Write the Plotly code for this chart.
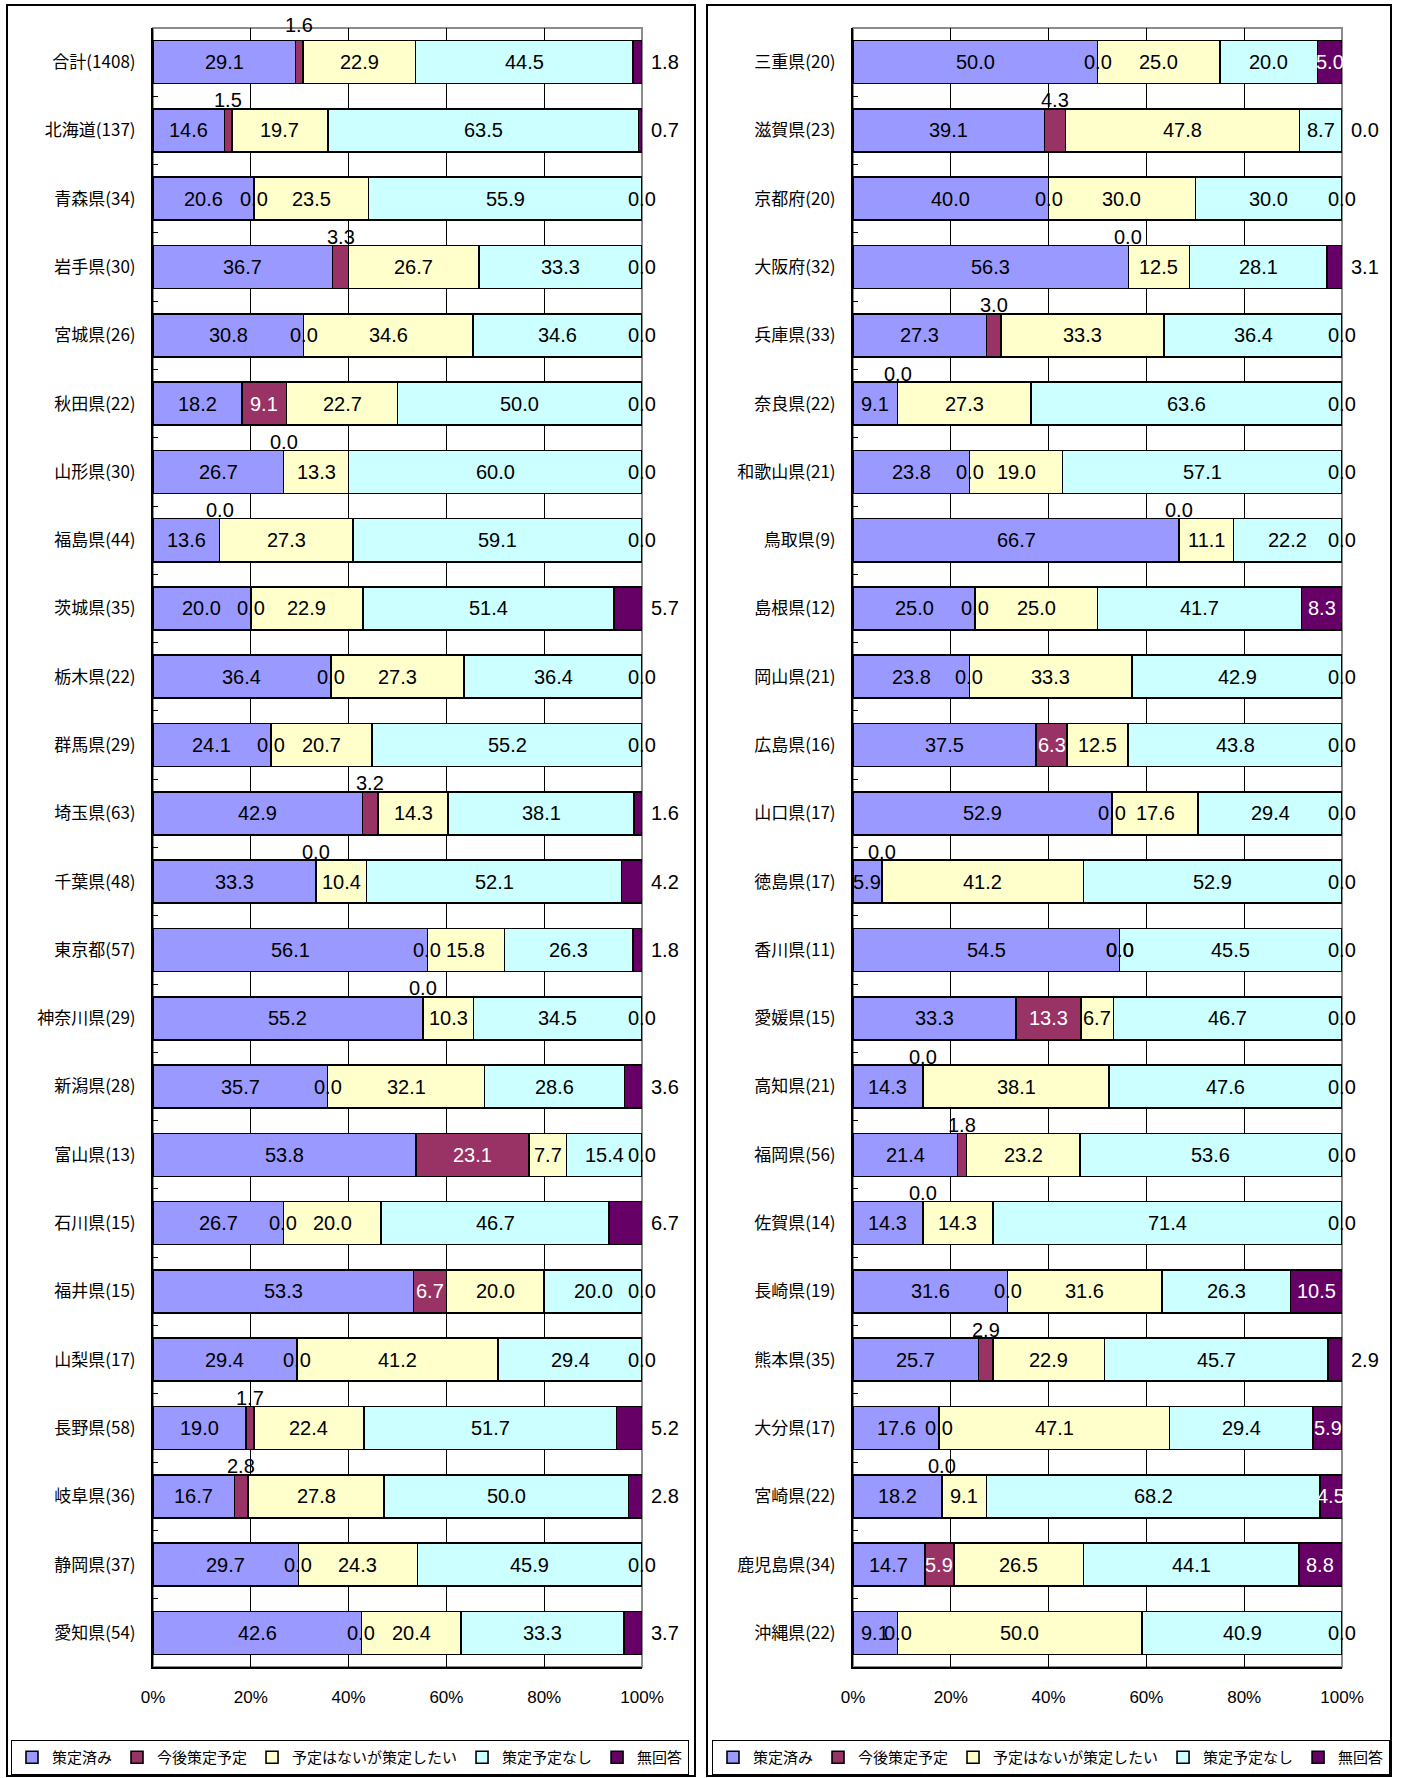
import numpy as np
import plotly.graph_objects as go

# ---------------- data ----------------
series_names = ["策定済み", "今後策定予定", "予定はないが策定したい", "策定予定なし", "無回答"]

left_categories = ["合計(1408)", "北海道(137)", "青森県(34)", "岩手県(30)", "宮城県(26)", "秋田県(22)",
                   "山形県(30)", "福島県(44)", "茨城県(35)", "栃木県(22)", "群馬県(29)", "埼玉県(63)",
                   "千葉県(48)", "東京都(57)", "神奈川県(29)", "新潟県(28)", "富山県(13)", "石川県(15)",
                   "福井県(15)", "山梨県(17)", "長野県(58)", "岐阜県(36)", "静岡県(37)", "愛知県(54)"]
left_done = [29.1, 14.6, 20.6, 36.7, 30.8, 18.2, 26.7, 13.6, 20.0, 36.4, 24.1, 42.9,
             33.3, 56.1, 55.2, 35.7, 53.8, 26.7, 53.3, 29.4, 19.0, 16.7, 29.7, 42.6]
left_planned = [1.6, 1.5, 0.0, 3.3, 0.0, 9.1, 0.0, 0.0, 0.0, 0.0, 0.0, 3.2,
                0.0, 0.0, 0.0, 0.0, 23.1, 0.0, 6.7, 0.0, 1.7, 2.8, 0.0, 0.0]
left_wish = [22.9, 19.7, 23.5, 26.7, 34.6, 22.7, 13.3, 27.3, 22.9, 27.3, 20.7, 14.3,
             10.4, 15.8, 10.3, 32.1, 7.7, 20.0, 20.0, 41.2, 22.4, 27.8, 24.3, 20.4]
left_none = [44.5, 63.5, 55.9, 33.3, 34.6, 50.0, 60.0, 59.1, 51.4, 36.4, 55.2, 38.1,
             52.1, 26.3, 34.5, 28.6, 15.4, 46.7, 20.0, 29.4, 51.7, 50.0, 45.9, 33.3]
left_na = [1.8, 0.7, 0.0, 0.0, 0.0, 0.0, 0.0, 0.0, 5.7, 0.0, 0.0, 1.6,
           4.2, 1.8, 0.0, 3.6, 0.0, 6.7, 0.0, 0.0, 5.2, 2.8, 0.0, 3.7]

right_categories = ["三重県(20)", "滋賀県(23)", "京都府(20)", "大阪府(32)", "兵庫県(33)", "奈良県(22)",
                    "和歌山県(21)", "鳥取県(9)", "島根県(12)", "岡山県(21)", "広島県(16)", "山口県(17)",
                    "徳島県(17)", "香川県(11)", "愛媛県(15)", "高知県(21)", "福岡県(56)", "佐賀県(14)",
                    "長崎県(19)", "熊本県(35)", "大分県(17)", "宮崎県(22)", "鹿児島県(34)", "沖縄県(22)"]
right_done = [50.0, 39.1, 40.0, 56.3, 27.3, 9.1, 23.8, 66.7, 25.0, 23.8, 37.5, 52.9,
              5.9, 54.5, 33.3, 14.3, 21.4, 14.3, 31.6, 25.7, 17.6, 18.2, 14.7, 9.1]
right_planned = [0.0, 4.3, 0.0, 0.0, 3.0, 0.0, 0.0, 0.0, 0.0, 0.0, 6.3, 0.0,
                 0.0, 0.0, 13.3, 0.0, 1.8, 0.0, 0.0, 2.9, 0.0, 0.0, 5.9, 0.0]
right_wish = [25.0, 47.8, 30.0, 12.5, 33.3, 27.3, 19.0, 11.1, 25.0, 33.3, 12.5, 17.6,
              41.2, 0.0, 6.7, 38.1, 23.2, 14.3, 31.6, 22.9, 47.1, 9.1, 26.5, 50.0]
right_none = [20.0, 8.7, 30.0, 28.1, 36.4, 63.6, 57.1, 22.2, 41.7, 42.9, 43.8, 29.4,
              52.9, 45.5, 46.7, 47.6, 53.6, 71.4, 26.3, 45.7, 29.4, 68.2, 44.1, 40.9]
right_na = [5.0, 0.0, 0.0, 3.1, 0.0, 0.0, 0.0, 0.0, 8.3, 0.0, 0.0, 0.0,
            0.0, 0.0, 0.0, 0.0, 0.0, 0.0, 10.5, 2.9, 5.9, 4.5, 8.8, 0.0]

x_tick_values = [0, 20, 40, 60, 80, 100]
x_tick_labels = ["0%", "20%", "40%", "60%", "80%", "100%"]

# ---------------- style ----------------
colors = ["#9999FF", "#993366", "#FFFFCC", "#CCFFFF", "#660066"]
W, H = 1401, 1778
LABEL_FONT = "Liberation Sans Narrow, Arial Narrow, Liberation Sans, sans-serif"
JP_FONT = "Noto Sans CJK JP, sans-serif"

# label placement choices
zero_planned_above = {"山形県(30)", "福島県(44)", "千葉県(48)", "神奈川県(29)",
                      "大阪府(32)", "奈良県(22)", "鳥取県(9)", "徳島県(17)", "高知県(21)",
                      "佐賀県(14)", "宮崎県(22)"}
above_shift = {"合計(1408)": 37}
na_zero_outside = {"滋賀県(23)"}
na_inside_min = {"left": None, "right": 4.5}

panels = {
    "left": dict(cats=left_categories, vals=[left_done, left_planned, left_wish, left_none, left_na],
                 xa="x", ya="y", legend="legend", box=(7, 695)),
    "right": dict(cats=right_categories, vals=[right_done, right_planned, right_wish, right_none, right_na],
                  xa="x2", ya="y2", legend="legend2", box=(707, 1391)),
}

PLOT_TOP, PLOT_BOT = 28, 1667

fig = go.Figure()
annotations = []
shapes = []

for key, p in panels.items():
    cats = p["cats"]
    vals = np.array(p["vals"], dtype=float)  # 5 x n
    for j, name in enumerate(series_names):
        fig.add_trace(go.Bar(
            y=cats, x=vals[j], orientation="h", name=name,
            marker=dict(color=colors[j], line=dict(color="#000000", width=1.6)),
            xaxis=p["xa"], yaxis=p["ya"], legend=p["legend"],
            hoverinfo="skip",
        ))
    # label positions (normalised like the 100% stacked bars)
    totals = vals.sum(axis=0)
    norm = vals / totals * 100
    ends = np.cumsum(norm, axis=0)
    starts = ends - norm
    for i, cat in enumerate(cats):
        up = above_shift.get(cat, 30)
        for j in range(5):
            v = vals[j, i]
            s, e = starts[j, i], ends[j, i]
            txt = f"{v:.1f}"
            a = dict(xref=p["xa"], yref=p["ya"], y=cat, text=txt, showarrow=False,
                     font=dict(family=LABEL_FONT, size=20, color="#000000"))
            white = dict(family=LABEL_FONT, size=20, color="#FFFFFF")
            if j in (0, 2, 3):
                a.update(x=(s + e) / 2)
            elif j == 1:
                if v == 0:
                    a.update(x=s)
                    if cat in zero_planned_above:
                        a.update(yshift=up)
                elif v < 5:
                    a.update(x=(s + e) / 2, yshift=up)
                else:
                    a.update(x=(s + e) / 2, font=white)
            else:
                thr = na_inside_min[key]
                if v == 0:
                    if cat in na_zero_outside:
                        a.update(x=100, xanchor="left", xshift=7)
                    else:
                        a.update(x=100)
                elif thr is not None and v >= thr:
                    a.update(x=(s + e) / 2, font=white)
                else:
                    a.update(x=100, xanchor="left", xshift=7)
            annotations.append(a)

    # panel frame
    shapes.append(dict(type="rect", xref="paper", yref="paper",
                       x0=p["box"][0] / W, x1=p["box"][1] / W,
                       y0=1 - 1776 / H, y1=1 - 5 / H,
                       line=dict(color="#000000", width=2), layer="below"))
    # plot area frame (grey)
    shapes.append(dict(type="rect", xref=p["xa"] + " domain", yref=p["ya"] + " domain",
                       x0=0, x1=1, y0=0, y1=1, line=dict(color="#8C8C8C", width=2), layer="below"))

axis_common_x = dict(range=[0, 100], tickvals=x_tick_values, ticktext=x_tick_labels,
                     showgrid=True, gridcolor="#000000", gridwidth=1, zeroline=False,
                     showline=True, linecolor="#000000", linewidth=1.5, ticks="",
                     ticklabelstandoff=14,
                     tickfont=dict(family=LABEL_FONT, size=17, color="#000000"))
axis_common_y = dict(type="category", autorange="reversed", showgrid=False, zeroline=False,
                     showline=True, linecolor="#000000", linewidth=2,
                     ticks="inside", ticklen=5, tickcolor="#000000", tickson="boundaries",
                     ticklabelstandoff=12,
                     tickfont=dict(family=JP_FONT, size=17, color="#000000"))

legend_common = dict(orientation="h", xanchor="left", yanchor="top", y=1 - 1740 / H,
                     bordercolor="#000000", borderwidth=1, bgcolor="#FFFFFF",
                     font=dict(family=JP_FONT, size=15, color="#000000"), traceorder="normal",
                     itemwidth=30)

fig.update_layout(
    width=W, height=H, margin=dict(l=0, r=0, t=0, b=0, autoexpand=False),
    paper_bgcolor="#FFFFFF", plot_bgcolor="#FFFFFF",
    barmode="stack", barnorm="percent", bargap=0.37,
    xaxis=dict(domain=[153 / W, 642 / W], anchor="y", **axis_common_x),
    yaxis=dict(domain=[1 - PLOT_BOT / H, 1 - PLOT_TOP / H], anchor="x",
               categoryorder="array", categoryarray=left_categories, **axis_common_y),
    xaxis2=dict(domain=[853 / W, 1342 / W], anchor="y2", **axis_common_x),
    yaxis2=dict(domain=[1 - PLOT_BOT / H, 1 - PLOT_TOP / H], anchor="x2",
                categoryorder="array", categoryarray=right_categories, **axis_common_y),
    legend=dict(x=11 / W, **legend_common),
    legend2=dict(x=712 / W, **legend_common),
    annotations=annotations,
    shapes=shapes,
    showlegend=True,
)

fig.write_html("out.html", config={"displayModeBar": False, "staticPlot": True},
               post_script="document.body.style.margin='0';document.body.style.overflow='hidden';")
